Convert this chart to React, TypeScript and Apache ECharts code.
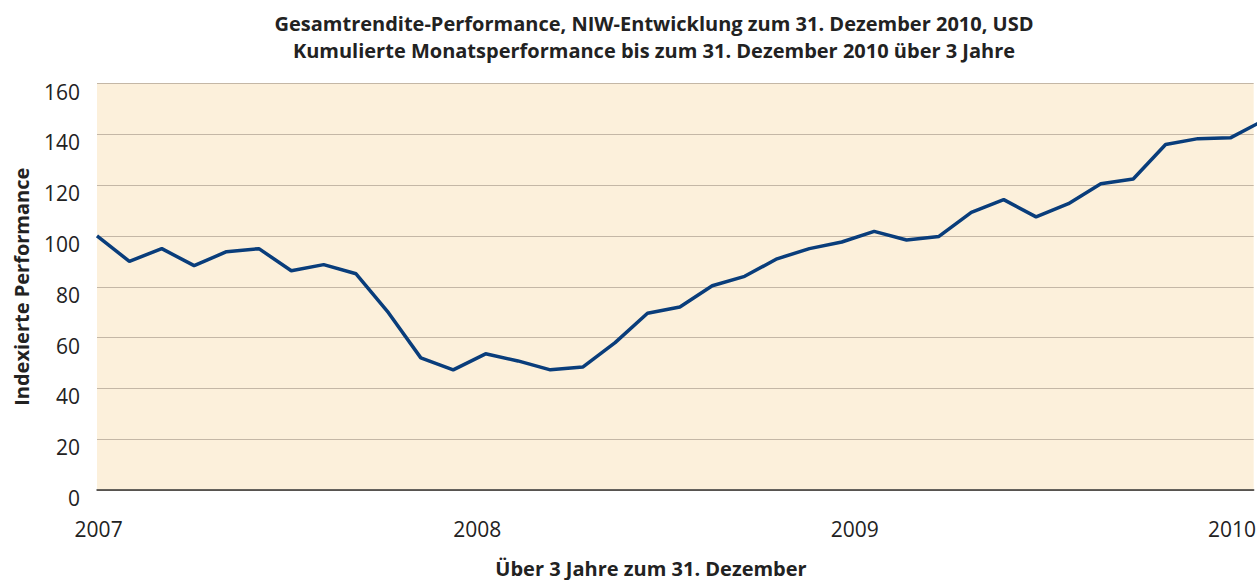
import React, { useEffect, useRef } from "react";
import * as echarts from "echarts";

// Monthly cumulative indexed performance (Dec 2007 = 100), 37 month-end points
const performance: number[] = [
  100, 90, 95, 88.3, 93.8, 95, 86.3, 88.7, 85.1, 69.8, 52, 47.3,
  53.6, 50.8, 47.3, 48.4, 58, 69.6, 72, 80.4, 84.1, 91, 95, 97.6,
  101.8, 98.4, 99.8, 109.3, 114.3, 107.5, 112.7, 120.5, 122.4, 136, 138.3, 138.6,
  145.3,
];

// Year tick labels and their positions on the month axis
const yearLabels: string[] = ["2007", "2008", "2009", "2010"];
const yearPositions: number[] = [0.05, 11.74, 23.4, 35.05];

const yTicks = { min: 0, max: 160, interval: 20 };
const xVisibleMax = 35.72;

const titleLines: string[] = [
  "Gesamtrendite-Performance, NIW-Entwicklung zum 31. Dezember 2010, USD",
  "Kumulierte Monatsperformance bis zum 31. Dezember 2010 über 3 Jahre",
];
const yAxisName = "Indexierte Performance";
const xAxisName = "Über 3 Jahre zum 31. Dezember";

const FONT = "'Open Sans', 'Noto Sans', sans-serif";

export default function App() {
  const ref = useRef<HTMLDivElement>(null);

  useEffect(() => {
    if (!ref.current) return;
    const chart = echarts.init(ref.current, null, { renderer: "svg" });
    const seriesData = performance.map((v, i) => [i, v]);
    chart.setOption({
      animation: false,
      backgroundColor: "#ffffff",
      title: {
        text: titleLines.join("\n"),
        left: 649,
        top: 5,
        textAlign: "center",
        textStyle: {
          fontFamily: FONT,
          fontSize: 20,
          fontWeight: "bold",
          color: "#222222",
          lineHeight: 27,
        },
      },
      grid: {
        left: 97,
        right: 0,
        top: 83.5,
        bottom: 90,
        show: true,
        backgroundColor: "#fcf0db",
        borderWidth: 0,
        containLabel: false,
      },
      xAxis: {
        type: "value",
        min: 0,
        max: xVisibleMax,
        axisLine: { show: true, lineStyle: { color: "#333333", width: 1.5 } },
        axisTick: { show: false },
        splitLine: { show: false },
        axisLabel: {
          customValues: yearPositions,
          formatter: (val: number) => {
            const idx = yearPositions.findIndex((p) => Math.abs(p - val) < 1e-6);
            return idx >= 0 ? yearLabels[idx] : "";
          },
          margin: 28,
          fontFamily: FONT,
          fontSize: 21,
          color: "#222222",
          showMinLabel: true,
          showMaxLabel: true,
        },
      },
      yAxis: {
        type: "value",
        min: yTicks.min,
        max: yTicks.max,
        interval: yTicks.interval,
        name: yAxisName,
        nameLocation: "middle",
        nameGap: 66,
        nameTextStyle: {
          fontFamily: FONT,
          fontSize: 20,
          fontWeight: "bold",
          color: "#222222",
        },
        axisLine: { show: false },
        axisTick: { show: false },
        splitLine: { show: true, lineStyle: { color: "#c4b7a6", width: 1.2 } },
        axisLabel: {
          margin: 17,
          fontFamily: FONT,
          fontSize: 21,
          color: "#222222",
          verticalAlign: "top",
          lineHeight: 16,
        },
      },
      graphic: [
        {
          type: "text",
          x: 651,
          y: 568,
          style: {
            text: xAxisName,
            align: "center",
            verticalAlign: "middle",
            fontFamily: FONT,
            fontSize: 20,
            fontWeight: "bold",
            fill: "#222222",
          },
        },
      ],
      series: [
        {
          type: "line",
          data: seriesData,
          showSymbol: false,
          symbol: "none",
          clip: true,
          lineStyle: { color: "#093d7b", width: 3.5 },
        },
      ],
    });
    return () => chart.dispose();
  }, []);

  return (
    <div
      ref={ref}
      style={{ position: "fixed", left: 0, top: 0, width: 1259, height: 580 }}
    />
  );
}
